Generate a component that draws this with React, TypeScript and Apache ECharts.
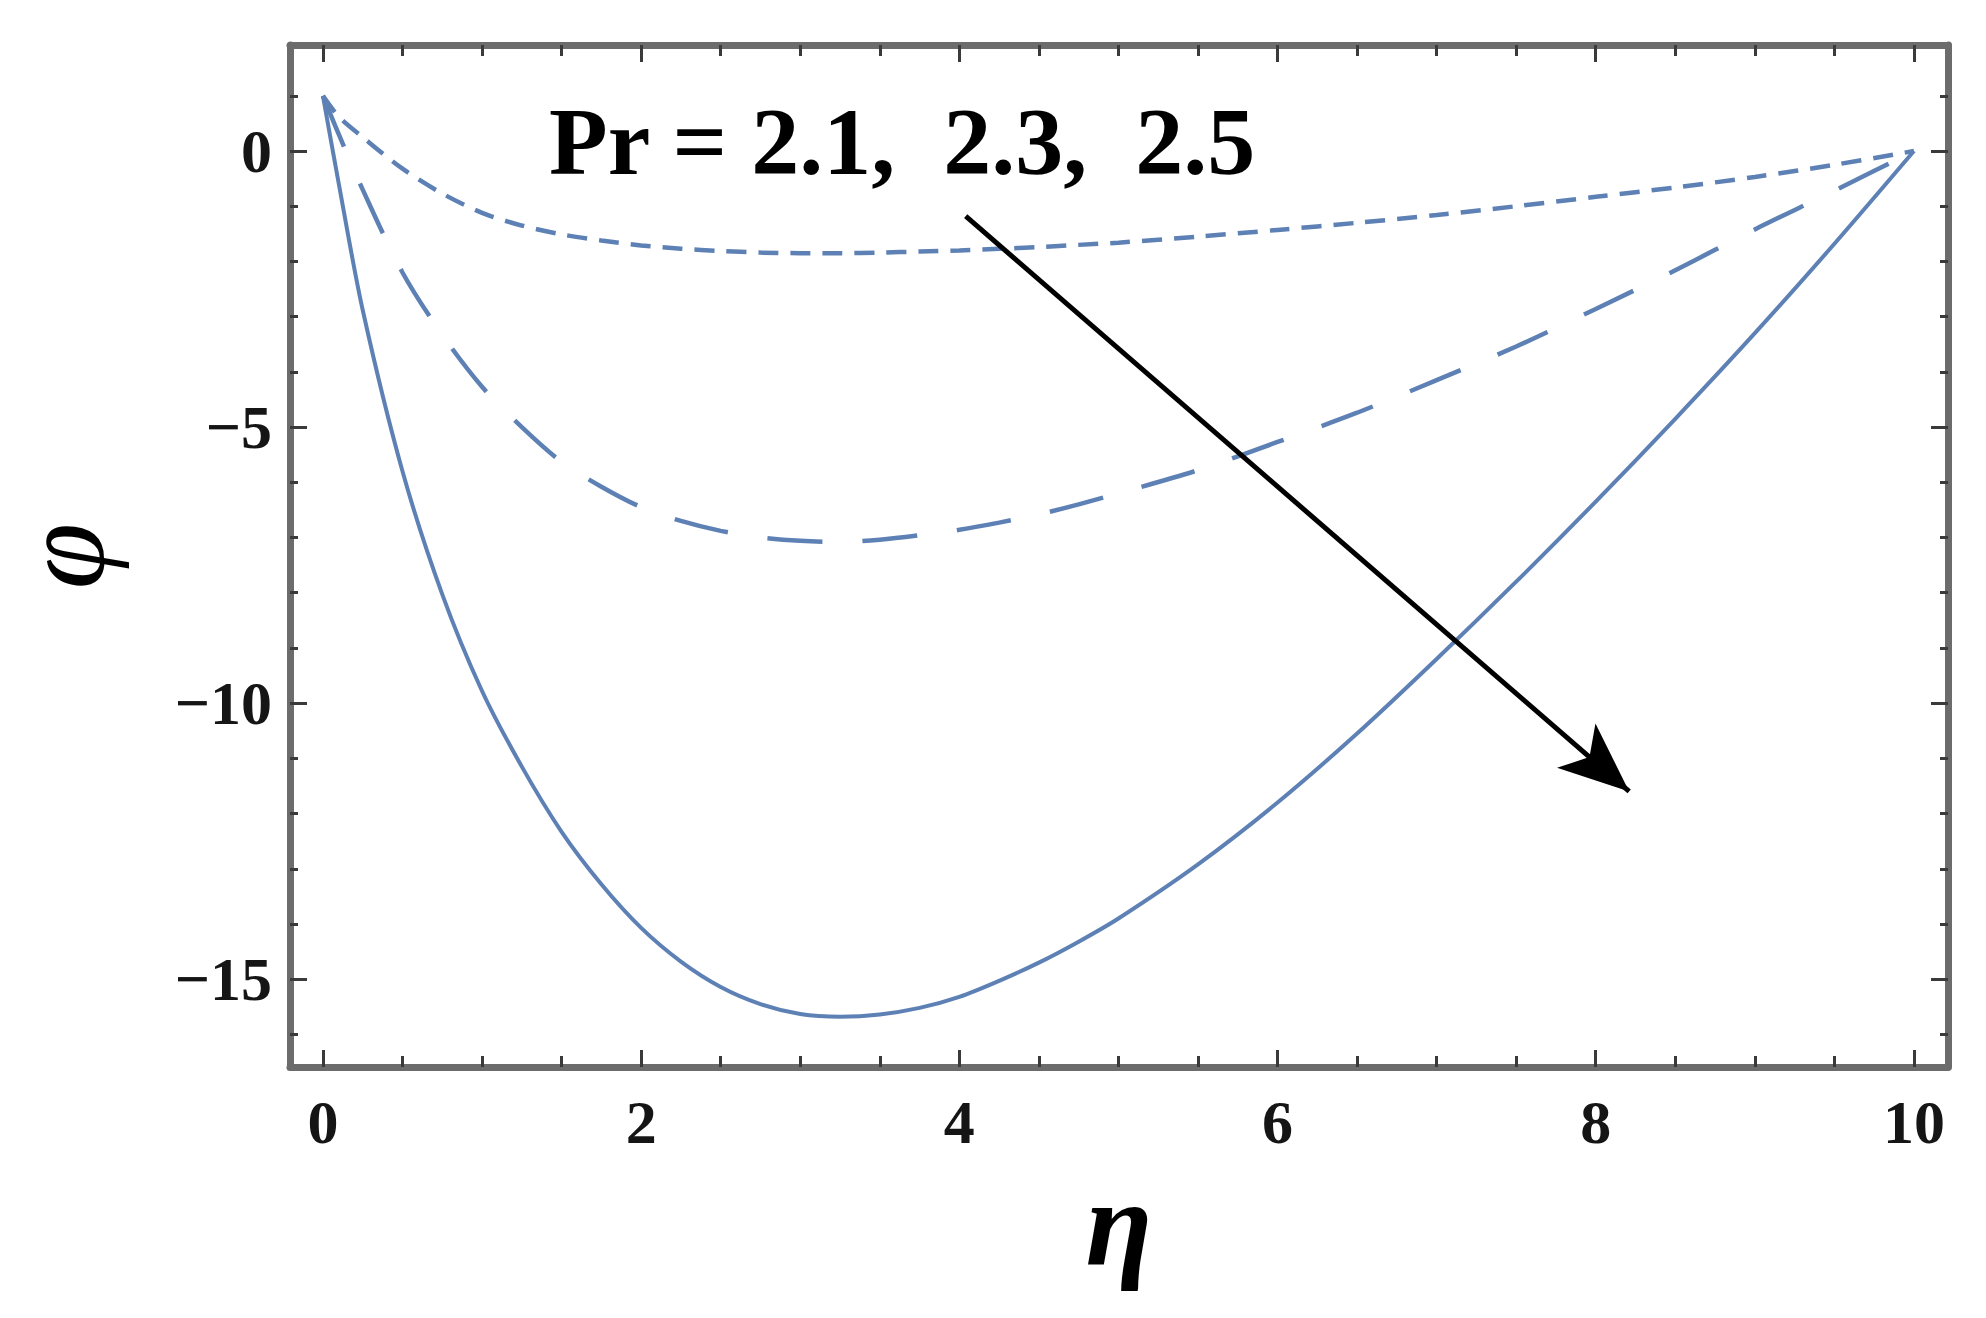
import React, { useEffect, useRef } from "react";
import * as echarts from "echarts";

// η values shared by the three curves
const eta = [0, 0.1, 0.25, 0.5, 0.75, 1, 1.25, 1.5, 1.75, 2, 2.25, 2.5, 2.75, 3, 3.25, 3.5, 3.75, 4, 4.25, 4.5, 4.75, 5, 5.5, 6, 6.5, 7, 7.5, 8, 8.5, 9, 9.5, 10];

// φ(η) for Pr = 2.1 (short dashes)
const phiPr21 = [1, 0.62, 0.25, -0.32, -0.77, -1.12, -1.35, -1.51, -1.62, -1.71, -1.77, -1.81, -1.84, -1.85, -1.85, -1.84, -1.82, -1.8, -1.77, -1.74, -1.7, -1.66, -1.55, -1.43, -1.3, -1.16, -1.0, -0.83, -0.66, -0.47, -0.25, 0];
// φ(η) for Pr = 2.3 (long dashes)
const phiPr23 = [1, 0.3, -0.7, -2.2, -3.33, -4.27, -5.0, -5.63, -6.08, -6.45, -6.7, -6.88, -7.0, -7.06, -7.08, -7.04, -6.96, -6.86, -6.73, -6.58, -6.4, -6.2, -5.78, -5.27, -4.74, -4.15, -3.54, -2.86, -2.16, -1.42, -0.72, 0];
// φ(η) for Pr = 2.5 (solid)
const phiPr25 = [1, -0.6, -2.88, -5.8, -8.03, -9.78, -11.15, -12.33, -13.28, -14.07, -14.68, -15.14, -15.45, -15.63, -15.68, -15.64, -15.52, -15.32, -15.03, -14.7, -14.32, -13.9, -12.92, -11.8, -10.55, -9.2, -7.8, -6.35, -4.85, -3.3, -1.68, 0];

const xMajor = [0, 2, 4, 6, 8, 10];
const xMinor = [0.5, 1, 1.5, 2.5, 3, 3.5, 4.5, 5, 5.5, 6.5, 7, 7.5, 8.5, 9, 9.5];
const yMajor = [-15, -10, -5, 0];
const yMinor = [-16, -14, -13, -12, -11, -9, -8, -7, -6, -4, -3, -2, -1, 1];

const xRange = [-0.207, 10.214];
const yRange = [-16.59, 1.92];

// arrow annotation (data coordinates): start, tip
const arrowStart = [4.04, -1.18];
const arrowEnd = [8.21, -11.6];

const titleText = "Pr = 2.1,  2.3,  2.5";

const BLUE = "#5E81B5";
const FRAME = "#6c6c6c";
const TICK = "#3a3a3a";
const FONT = "Liberation Serif";

function pairs(ys: number[]) {
  return eta.map((x, i) => [x, ys[i]]);
}

function minusFmt(v: number) {
  return v < 0 ? "\u2212" + Math.abs(v) : String(v);
}

export default function App() {
  const ref = useRef<HTMLDivElement>(null);
  useEffect(() => {
    document.body.style.margin = "0";
    const chart = echarts.init(ref.current!, null, { renderer: "svg" });
    const labelStyle = {
      fontFamily: FONT,
      fontSize: 62,
      fontWeight: "bold" as const,
      color: "#151515",
    };
    const xAxisBase = (position: string, major: boolean, showLine: boolean, showLabel: boolean) => ({
      type: "value",
      position,
      min: xRange[0],
      max: xRange[1],
      axisLine: { show: showLine, onZero: false, lineStyle: { color: FRAME, width: 7 } },
      axisTick: {
        show: true,
        inside: true,
        length: major ? 17 : 11,
        customValues: major ? xMajor : xMinor,
        lineStyle: { color: TICK, width: 3 },
      },
      axisLabel: showLabel
        ? { show: true, customValues: xMajor, margin: 24, ...labelStyle }
        : { show: false },
      splitLine: { show: false },
    });
    const yAxisBase = (position: string, major: boolean, showLine: boolean, showLabel: boolean) => ({
      type: "value",
      position,
      min: yRange[0],
      max: yRange[1],
      axisLine: { show: showLine, onZero: false, lineStyle: { color: FRAME, width: 7 } },
      axisTick: {
        show: true,
        inside: true,
        length: major ? 17 : 8,
        customValues: major ? yMajor : yMinor,
        lineStyle: { color: TICK, width: 3 },
      },
      axisLabel: showLabel
        ? { show: true, customValues: yMajor, margin: 18, formatter: minusFmt, ...labelStyle }
        : { show: false },
      splitLine: { show: false },
    });

    const xAxes = [
      {
        ...xAxisBase("bottom", true, true, true),
        name: "\u03B7",
        nameLocation: "middle",
        nameGap: 95,
        nameTextStyle: { fontFamily: FONT, fontSize: 122, fontStyle: "italic", fontWeight: "bold", color: "#000" },
      },
      xAxisBase("bottom", false, false, false),
      xAxisBase("top", true, true, false),
      xAxisBase("top", false, false, false),
    ];
    const yAxes = [
      {
        ...yAxisBase("left", true, true, true),
        name: "\u03C6",
        nameLocation: "middle",
        nameGap: 180,
        nameRotate: 90,
        nameTextStyle: { fontFamily: FONT, fontSize: 120, lineHeight: 96, fontStyle: "italic", color: "#000" },
      },
      yAxisBase("left", false, false, false),
      yAxisBase("right", true, true, false),
      yAxisBase("right", false, false, false),
    ];

    chart.setOption({
      animation: false,
      backgroundColor: "#ffffff",
      grid: { left: 290, right: 38, top: 45, bottom: 251, containLabel: false, outerBoundsMode: "none" },
      xAxis: xAxes,
      yAxis: yAxes,
      series: [
        {
          name: "Pr = 2.1",
          type: "line",
          data: pairs(phiPr21),
          showSymbol: false,
          smooth: 0.3,
          lineStyle: { color: BLUE, width: 4.5, type: [20, 12] },
          xAxisIndex: 0,
          yAxisIndex: 0,
          z: 3,
        },
        {
          name: "Pr = 2.3",
          type: "line",
          data: pairs(phiPr23),
          showSymbol: false,
          smooth: 0.3,
          lineStyle: { color: BLUE, width: 4.5, type: [55, 40] },
          xAxisIndex: 0,
          yAxisIndex: 0,
          z: 3,
        },
        {
          name: "Pr = 2.5",
          type: "line",
          data: pairs(phiPr25),
          showSymbol: false,
          smooth: 0.3,
          lineStyle: { color: BLUE, width: 4, type: "solid" },
          xAxisIndex: 0,
          yAxisIndex: 0,
          z: 3,
          markLine: {
            silent: true,
            symbol: ["none", "arrow"],
            symbolSize: [44, 70],
            label: { show: false },
            lineStyle: { color: "#000", width: 5, type: "solid" },
            data: [[{ coord: arrowStart }, { coord: arrowEnd }]],
          },
        },
      ],
      graphic: [
        {
          type: "text",
          x: 549,
          y: 141,
          style: {
            text: titleText,
            font: `bold 96px "${FONT}"`,
            fill: "#000",
            textAlign: "left",
            textVerticalAlign: "middle",
          },
          z: 10,
        },
      ],
    });
    return () => chart.dispose();
  }, []);
  return <div ref={ref} style={{ position: "absolute", left: 0, top: 0, width: 1986, height: 1318 }} />;
}
